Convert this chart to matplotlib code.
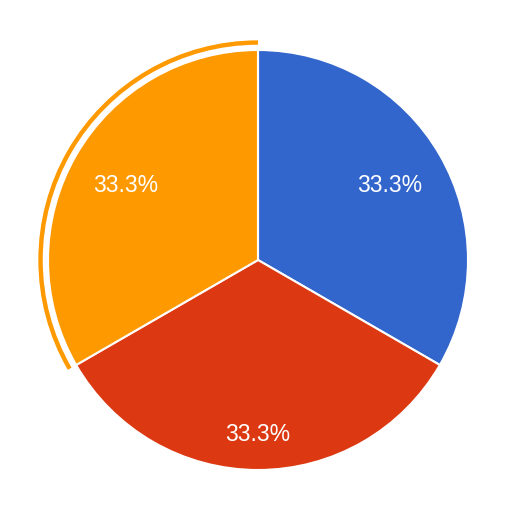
import numpy as np
import matplotlib.pyplot as plt
from matplotlib.patches import Wedge

labels = ['A', 'B', 'C']
values = [1, 1, 1]
colors = ['#3366CC', '#DC3912', '#FF9900']
highlight = 2  # hovered slice gets the outer ring

plt.rcParams['font.family'] = ['Liberation Sans', 'DejaVu Sans']

fig = plt.figure(figsize=(5.12, 5.12), dpi=100)
ax = fig.add_axes([0, 0, 1, 1])

wedges, texts = ax.pie(values, colors=colors, startangle=90, counterclock=False,
                       radius=1.0, wedgeprops=dict(edgecolor='white', linewidth=1.5))

total = sum(values)
dist = [0.725, 0.82, 0.725]
for i, w in enumerate(wedges):
    mid = np.deg2rad((w.theta1 + w.theta2) / 2)
    ax.text(dist[i] * np.cos(mid), dist[i] * np.sin(mid) - 0.01,
            f'{values[i] / total * 100:.1f}%', color='white', fontsize=16.5,
            ha='center', va='center')

hw = wedges[highlight]
ax.add_patch(Wedge((0, 0), 1.046, hw.theta1, hw.theta2, width=0.021,
                   facecolor=colors[highlight], edgecolor='none'))

ax.set_xlim(-258 / 210, (512 - 258) / 210)
ax.set_ylim(-(512 - 260) / 210, 260 / 210)
ax.set_aspect('auto')
ax.axis('off')

fig.savefig('out.png', dpi=100)
